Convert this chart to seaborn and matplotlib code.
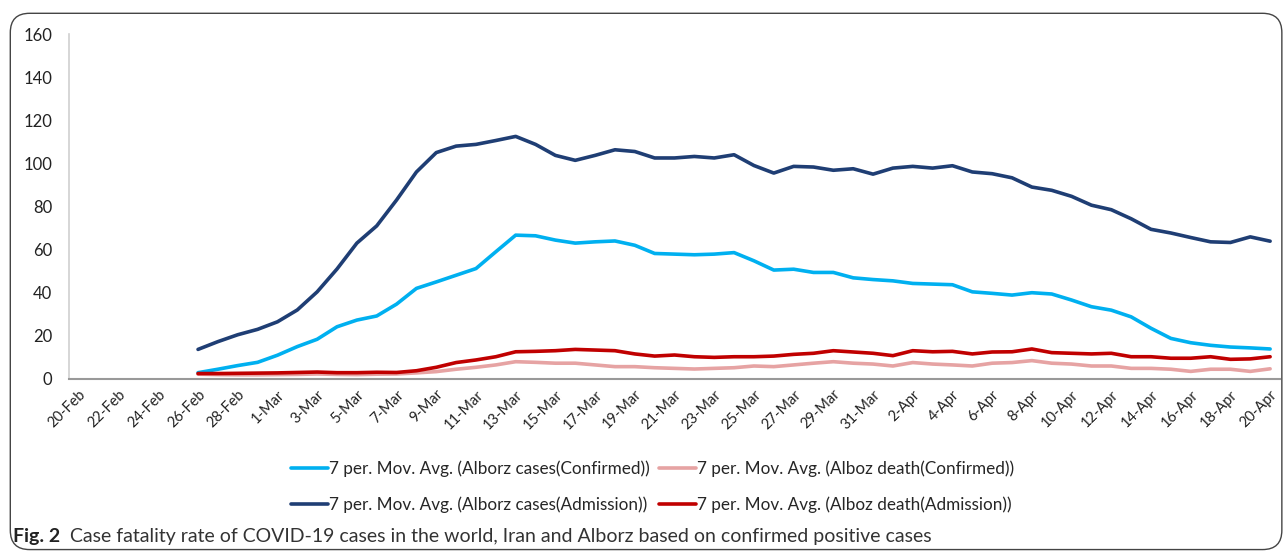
import numpy as np
import pandas as pd
import seaborn as sns
import matplotlib.pyplot as plt
from matplotlib.patches import FancyBboxPatch

# Fechas: 20-Feb a 20-Apr (2020, año bisiesto)
dates = pd.date_range("2020-02-20", "2020-04-20", freq="D")
date_labels = [f"{d.day}-{d.strftime('%b')}" for d in dates]

nan6 = [np.nan] * 6  # sin datos del 20-Feb al 25-Feb

cases_confirmed = nan6 + [
    2.9, 4.5, 6.2, 7.7, 11.0, 15.0, 18.4, 24.2, 27.3, 29.2, 34.7, 42.0, 45.0,
    48.1, 51.2, 59.0, 66.7, 66.4, 64.4, 63.0, 63.6, 64.0, 62.0, 58.2, 57.9,
    57.6, 57.9, 58.6, 54.8, 50.5, 50.9, 49.4, 49.4, 46.9, 46.1, 45.5, 44.3,
    44.0, 43.7, 40.4, 39.7, 38.9, 40.0, 39.4, 36.6, 33.5, 31.9, 28.8, 23.5,
    18.8, 16.8, 15.6, 14.8, 14.4, 13.9]

cases_admission = nan6 + [
    13.7, 17.3, 20.5, 23.0, 26.5, 32.0, 40.4, 51.0, 63.0, 71.0, 83.0, 96.0,
    105.0, 108.0, 108.8, 110.6, 112.5, 108.8, 103.7, 101.4, 103.7, 106.3,
    105.5, 102.5, 102.5, 103.2, 102.5, 104.0, 99.0, 95.5, 98.6, 98.3, 96.8,
    97.5, 95.0, 97.8, 98.6, 97.8, 98.9, 96.0, 95.2, 93.3, 89.0, 87.5, 84.7,
    80.6, 78.5, 74.3, 69.4, 67.7, 65.6, 63.6, 63.3, 65.9, 63.9]

death_confirmed = nan6 + [
    2.2, 2.0, 1.9, 1.9, 2.0, 2.1, 2.3, 2.1, 2.0, 2.2, 2.3, 2.8, 3.4, 4.5,
    5.4, 6.5, 8.0, 7.7, 7.3, 7.3, 6.5, 5.7, 5.7, 5.2, 4.9, 4.6, 4.9, 5.2,
    6.0, 5.7, 6.5, 7.3, 8.0, 7.3, 6.9, 6.0, 7.6, 6.9, 6.5, 6.0, 7.3, 7.6,
    8.5, 7.3, 6.9, 6.0, 6.0, 4.9, 4.9, 4.5, 3.5, 4.5, 4.5, 3.5, 4.7]

death_admission = nan6 + [
    2.5, 2.5, 2.6, 2.7, 2.8, 3.0, 3.2, 2.9, 2.9, 3.1, 3.0, 3.8, 5.4, 7.6,
    8.8, 10.3, 12.6, 12.8, 13.1, 13.7, 13.4, 13.1, 11.6, 10.6, 11.1, 10.3,
    10.0, 10.3, 10.3, 10.6, 11.4, 11.9, 13.1, 12.5, 11.9, 10.8, 13.1, 12.6,
    12.8, 11.6, 12.5, 12.6, 13.9, 12.2, 11.9, 11.6, 11.9, 10.3, 10.3, 9.6,
    9.6, 10.3, 9.1, 9.3, 10.3]

series = [
    ("7 per. Mov. Avg. (Alborz cases(Confirmed))", cases_confirmed, "#00B0F0"),
    ("7 per. Mov. Avg. (Alborz cases(Admission))", cases_admission, "#1F3E74"),
    ("7 per. Mov. Avg. (Alboz death(Confirmed))", death_confirmed, "#E6A3A3"),
    ("7 per. Mov. Avg. (Alboz death(Admission))", death_admission, "#C00000"),
]

sns.set_theme(style="white")
plt.rcParams['font.family'] = ['Lato', 'DejaVu Sans']

fig = plt.figure(figsize=(12.87, 5.54), dpi=100)
ax = fig.add_axes([0.0536, 0.316, 0.9410, 0.6226])

x = np.arange(len(dates))
# dibujar en orden: rosa y rojo encima de los azules
for name, vals, col in [series[1], series[0], series[2], series[3]]:
    sns.lineplot(x=x, y=vals, ax=ax, color=col, linewidth=2.6, label=name)

ax.set_xlim(-0.5, len(dates) - 0.5)
ax.set_ylim(0, 160)
ax.set_yticks(range(0, 161, 20))
ax.set_xticks(x[::2])
ax.set_xticklabels(date_labels[::2], rotation=45, ha='right',
                   rotation_mode='anchor', fontsize=10.5, color='#222222')
ax.tick_params(axis='y', labelsize=12, labelcolor='#222222', length=0, pad=12)
ax.tick_params(axis='x', length=0, pad=6)

for s in ['top', 'right']:
    ax.spines[s].set_visible(False)
ax.spines['left'].set_color('#D0D0D0')
ax.spines['bottom'].set_color('#999999')
ax.spines['left'].set_linewidth(1.2)
ax.spines['bottom'].set_linewidth(1.5)

# leyenda en dos filas
ax.get_legend().remove()
handles, labels = ax.get_legend_handles_labels()
order = {n: h for h, n in zip(handles, labels)}
names = [s[0] for s in series]
fig.legend([order[n] for n in names], names, ncol=2, loc='center',
           bbox_to_anchor=(0.507, 0.121), frameon=False, fontsize=12.3,
           handlelength=2.2, handletextpad=0.05, columnspacing=0.5,
           labelspacing=1.15)

# marco redondeado
border = FancyBboxPatch((0.008, 0.008), 0.988, 0.968,
                        boxstyle="round,pad=0,rounding_size=0.015",
                        transform=fig.transFigure, fill=False,
                        edgecolor='#444444', linewidth=1.0,
                        mutation_aspect=1287 / 554)
fig.patches.append(border)

# pie de figura
t1 = fig.text(0.010, 0.022, "Fig. 2", fontsize=14, fontweight='bold',
              color='#222222', va='baseline')
ax.annotate("Case fatality rate of COVID-19 cases in the world, Iran and Alborz based on confirmed positive cases",
            xy=(1, 0), xycoords=t1, xytext=(7, 0), textcoords='offset points',
            fontsize=14, color='#333333', va='bottom', annotation_clip=False)

fig.savefig("out.png", dpi=100)
